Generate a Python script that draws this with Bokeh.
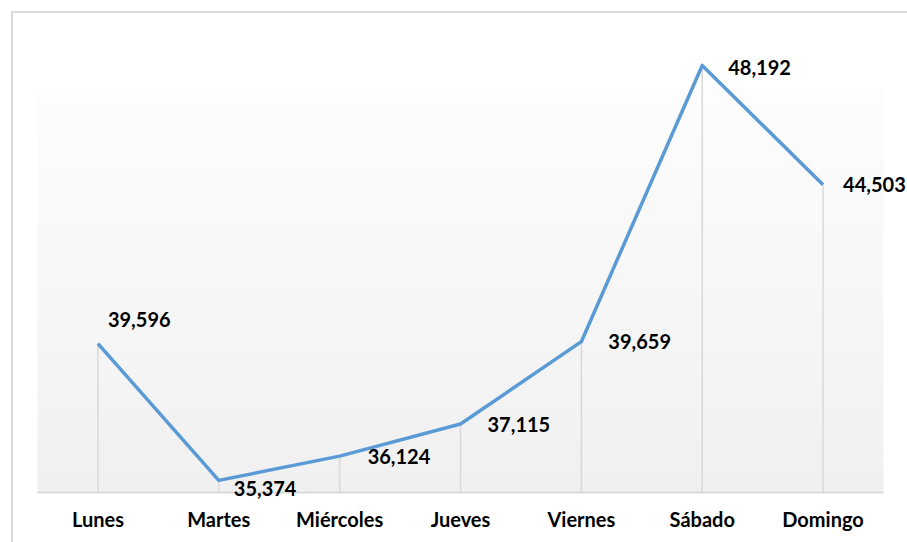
from bokeh.plotting import figure
from bokeh.models import ColumnDataSource, LabelSet, BoxAnnotation, Range1d, FactorRange
from bokeh.core.properties import value
from bokeh.embed import file_html
from bokeh.resources import INLINE

# ---- data ----
days = ["Lunes", "Martes", "Miércoles", "Jueves", "Viernes", "Sábado", "Domingo"]
values = [39596, 35374, 36124, 37115, 39659, 48192, 44503]
labels = [f"{v:,}" for v in values]

# ---- label placement nudges (screen px) ----
label_dx = [10, 15, 28, 27, 27, 26, 20]
label_dy = [24, -8, 0, 0, 0, -2, 0]

y_base = 35000      # value where the category axis line sits
y_start = 34753
y_end = 49580
grad_top = 47478

src = ColumnDataSource(dict(day=days, value=values, label=labels,
                            dx=label_dx, dy=label_dy))

xr = FactorRange(*days, range_padding=0.1986, range_padding_units="absolute")
p = figure(x_range=xr, y_range=Range1d(y_start, y_end),
           width=907, height=542, output_backend="svg", toolbar_location=None,
           y_axis_location=None,
           min_border_left=13, min_border_right=0,
           min_border_top=20, min_border_bottom=42)

p.background_fill_color = None
p.border_fill_color = None
p.outline_line_color = None
p.grid.visible = False
p.styles = {"box-shadow": "inset 11px 11px 0 0 #ffffff, inset 13px 13px 0 0 #d9d9d9"}

n_cat = len(days)

# gradient background of the plot area (bands)
n = 40
for i in range(n):
    b = y_base + (grad_top - y_base) * i / n
    t = y_base + (grad_top - y_base) * (i + 1) / n
    c = int(round(0xf0 + (0xfd - 0xf0) * (i + 0.5) / n))
    p.add_layout(BoxAnnotation(left=0, right=n_cat, bottom=b, top=t,
                               fill_color=f"#{c:02x}{c:02x}{c:02x}",
                               fill_alpha=1, line_color=None, level="underlay"))

# category axis line
p.segment(x0=0, y0=y_base, x1=n_cat, y1=y_base, line_color="#d9d9d9", line_width=2)

# drop lines
p.segment(x0="day", y0=y_base, x1="day", y1="value", source=src,
          line_color="#d9d9d9", line_width=1.5)

# series line
p.line("day", "value", source=src, line_color="#5B9BD5", line_width=3.5,
       line_join="round")

# data labels
p.add_layout(LabelSet(x="day", y="value", text="label", source=src,
                      x_offset="dx", y_offset="dy",
                      text_font=value("Lato"), text_font_size="20px",
                      text_font_style="bold", text_color="#000000",
                      text_align="left", text_baseline="middle"))

ax = p.xaxis[0]
ax.axis_line_color = None
ax.major_tick_line_color = None
ax.minor_tick_line_color = None
ax.major_tick_out = 0
ax.major_tick_in = 0
ax.major_label_standoff = 6
ax.major_label_text_font = "Lato"
ax.major_label_text_font_size = "20px"
ax.major_label_text_font_style = "bold"
ax.major_label_text_color = "#000000"

open("out.html", "w").write(file_html(p, INLINE))
